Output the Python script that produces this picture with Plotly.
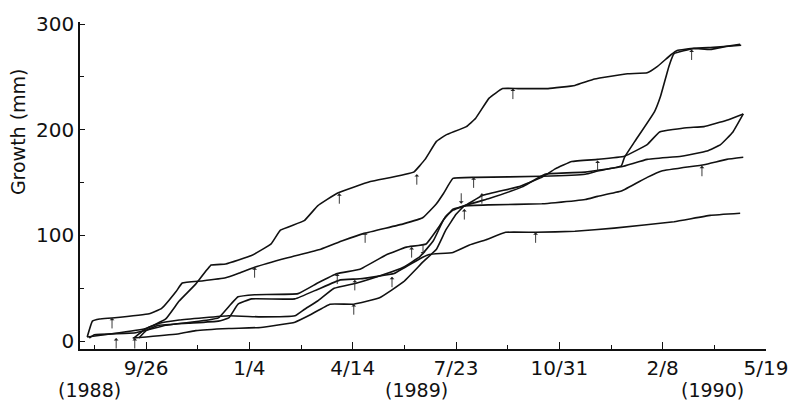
import plotly.graph_objects as go

# x values: days after 26 Sep 1988 ; y values: growth (mm)
tick_days = [0, 100, 200, 300, 400, 500, 600]
tick_labels = ["9/26", "1/4", "4/14", "7/23", "10/31", "2/8", "5/19"]
minor_days = [-50, 50, 150, 250, 350, 450, 550]
y_ticks = [0, 100, 200, 300]
y_minor = [50, 150, 250]
year_labels = ["(1988)", "(1989)", "(1990)"]

T_day = [-57, -33, 0, 19, 32, 48, 63, 77, 102, 121, 130, 153, 166, 185, 217, 259, 270, 281, 290, 310, 319, 332, 345, 360, 389, 415, 434, 466, 485, 495, 508, 514, 530, 546, 562, 575]
T_val = [4, 7, 12, 21, 38, 54, 72, 73, 81, 92, 105, 114, 128, 140, 151, 160, 172, 189, 195, 203, 211, 230, 239, 239, 239, 242, 248, 253, 254, 260, 271, 275, 277, 276, 279, 281]

S_day = [-57, -52, -45, -33, 3, 15, 29, 35, 54, 77, 89, 105, 137, 169, 190, 211, 249, 268, 281, 288, 297, 319, 383, 425, 437, 460, 463, 473, 492, 498, 506, 511, 530, 549, 576]
S_val = [4, 19, 21, 22, 26, 31, 47, 55, 57, 60, 64, 70, 79, 87, 95, 102, 111, 117, 130, 140, 154, 155, 156, 158, 161, 166, 174, 189, 217, 232, 260, 272, 277, 278, 280]

M_day = [-55, -50, -10, 19, 60, 70, 82, 89, 105, 147, 166, 185, 207, 233, 252, 271, 284, 290, 297, 308, 332, 383, 396, 425, 437, 460, 485, 499, 540, 562, 578]
M_val = [3, 6, 8, 15, 20, 22, 35, 42, 44, 45, 55, 64, 68, 82, 89, 92, 109, 118, 124, 128, 129, 130, 131, 134, 137, 142, 155, 161, 167, 172, 174]

B_day = [-7, 0, 12, 41, 70, 80, 89, 102, 144, 166, 188, 207, 240, 249, 265, 274, 297, 313, 329, 348, 377, 415, 453, 511, 546, 575]
B_val = [3, 10, 15, 17, 19, 22, 35, 40, 40, 49, 58, 59, 64, 69, 78, 82, 84, 91, 96, 103, 103, 104, 107, 113, 119, 121]

U_day = [-12, 0, 13, 32, 80, 111, 144, 153, 166, 182, 204, 230, 249, 265, 278, 288, 297, 308, 326, 360, 383, 396, 412, 437, 463, 485, 497, 523, 540, 562, 578]
U_val = [3, 12, 17, 20, 24, 23, 24, 30, 38, 50, 55, 63, 70, 80, 95, 115, 125, 128, 138, 146, 155, 163, 170, 172, 175, 186, 198, 202, 203, 209, 215]

L_day = [-13, 0, 32, 48, 80, 111, 144, 159, 178, 201, 226, 249, 268, 281, 290, 300, 308, 332, 364, 386, 425, 460, 485, 518, 543, 556, 568, 578]
L_val = [3, 4, 7, 10, 12, 13, 18, 25, 35, 35, 41, 56, 75, 87, 105, 120, 128, 135, 146, 158, 160, 165, 172, 175, 180, 186, 198, 215]

# event arrows (day, growth, direction)
arrow_day = [-33, -29, -11, 105, 187, 212, 185, 202, 201, 257, 268, 262, 317, 305, 308, 325, 355, 377, 437, 528, 538, 238]
arrow_val = [22, 3, 3, 70, 140, 103, 64, 58, 35, 89, 82, 158, 155, 130, 125, 140, 239, 103, 171, 276, 166, 61]
arrow_dir = ["up", "up", "up", "up", "up", "up", "up", "up", "up", "up", "down", "up", "up", "down", "up", "up", "up", "up", "up", "up", "up", "up"]

series = [(T_day, T_val), (S_day, S_val), (M_day, M_val), (B_day, B_val), (U_day, U_val), (L_day, L_val)]

fig = go.Figure()
for d, v in series:
    fig.add_trace(go.Scatter(x=d, y=v, mode="lines",
                             line=dict(color="#111111", width=1.6, shape="spline", smoothing=0.3),
                             showlegend=False, hoverinfo="skip"))

for d, v, dr in zip(arrow_day, arrow_val, arrow_dir):
    fig.add_annotation(x=d, y=v, xref="x", yref="y", text="", showarrow=True,
                       ax=0, ay=12 if dr == "up" else -12,
                       arrowhead=1, arrowsize=0.9, arrowwidth=0.9, arrowcolor="#222222", standoff=0)

FONT = "DejaVu Sans"
fig.update_layout(
    width=800, height=405,
    margin=dict(l=80, r=27, t=15, b=56),
    paper_bgcolor="white", plot_bgcolor="white",
    font=dict(family=FONT, color="#111111", size=20),
    showlegend=False,
)
fig.update_xaxes(range=[-64, 600], tickmode="array", tickvals=tick_days, ticktext=tick_labels,
                 ticks="inside", ticklen=7, tickwidth=1.2, tickcolor="#111111",
                 minor=dict(tickvals=minor_days, ticks="inside", ticklen=4, tickcolor="#111111"),
                 showline=True, linecolor="#111111", linewidth=1.6,
                 showgrid=False, zeroline=False, tickfont=dict(size=20, family=FONT))
fig.update_yaxes(range=[-7.4, 302], tickmode="array", tickvals=y_ticks,
                 ticks="inside", ticklen=5, tickwidth=1.2, tickcolor="#111111",
                 minor=dict(tickvals=y_minor, ticks="inside", ticklen=4, tickcolor="#111111"),
                 showline=True, linecolor="#111111", linewidth=1.6,
                 showgrid=False, zeroline=False, tickfont=dict(size=20, family=FONT))

fig.add_annotation(text="Growth (mm)", xref="paper", yref="paper", x=-0.091, y=0.665,
                   textangle=-90, showarrow=False, font=dict(size=19, family=FONT),
                   xanchor="center", yanchor="middle")
for lab, xp in zip(year_labels, [0.0144, 0.4906, 0.9221]):
    fig.add_annotation(text=lab, xref="paper", yref="paper", x=xp, y=-0.125,
                       showarrow=False, font=dict(size=19, family=FONT),
                       xanchor="center", yanchor="middle")

fig.write_html("out.html", config={"displayModeBar": False},
               post_script="document.body.style.margin='0';document.body.style.overflow='hidden';")
